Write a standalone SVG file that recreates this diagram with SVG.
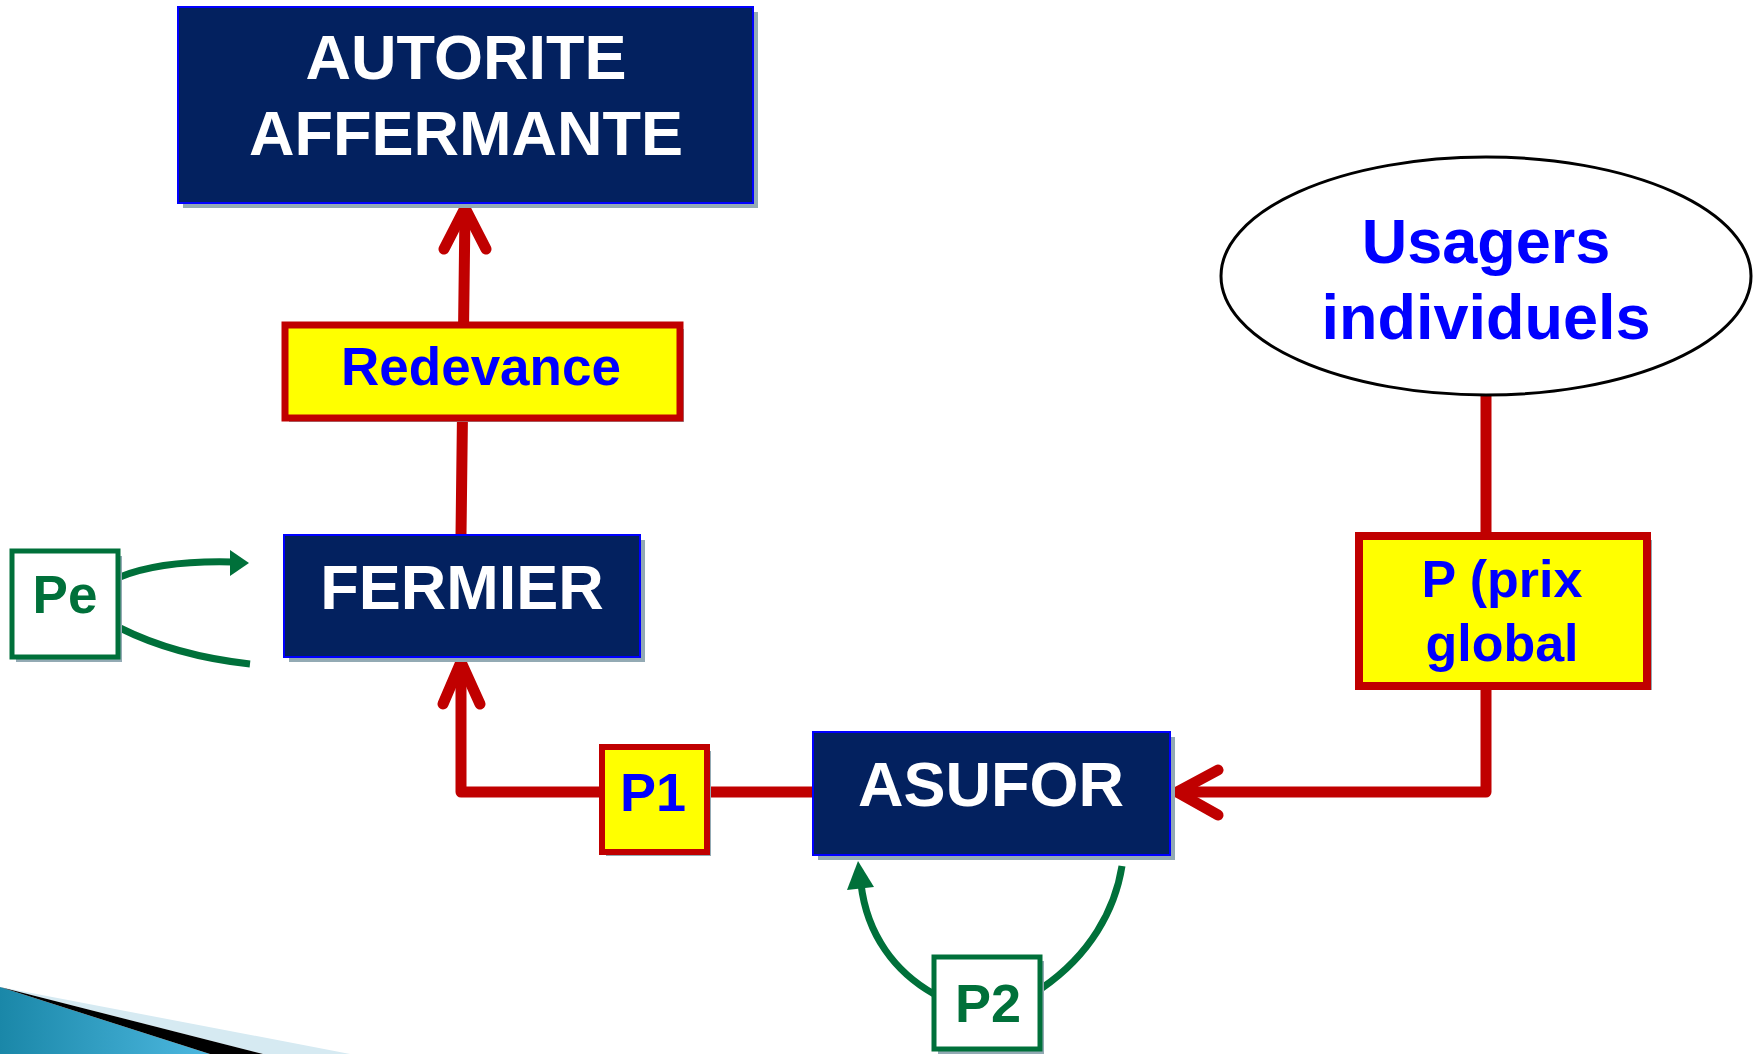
<svg xmlns="http://www.w3.org/2000/svg" width="1760" height="1054" viewBox="0 0 1760 1054">
<style>
.t{font-family:"Liberation Sans",Arial,sans-serif;font-weight:bold;text-anchor:middle}
.w{fill:#FFFFFF;font-size:63px}
.b{fill:#0000FF}
.g{fill:#00703A}
.navy{fill:#03215F;stroke:#0000FF;stroke-width:2}
.yel{fill:#FFFF00;stroke:#C00000;stroke-width:7}
.grn{fill:#FFFFFF;stroke:#00703A;stroke-width:5}
.sh{fill:#93AAB4}
.red{fill:none;stroke:#C00000;stroke-width:11;stroke-linecap:round;stroke-linejoin:round}
.gl{fill:none;stroke:#00703A;stroke-width:7}
</style>
<defs>
<linearGradient id="blu" x1="0" y1="0" x2="1" y2="0">
<stop offset="0" stop-color="#1A87A8"/>
<stop offset="1" stop-color="#4DB8E0"/>
</linearGradient>
</defs>
<rect width="1760" height="1054" fill="#FFFFFF"/>

<g id="decoration">
<polygon points="0,987 350,1054 263,1054" fill="#D6EAF2"/>
<polygon points="0,987 0,1054 210,1054" fill="url(#blu)"/>
<polygon points="0,987 263,1054 210,1054" fill="#000000"/>
</g>

<g id="connectors">
<polyline class="red" points="461,535 465,210"/>
<polyline class="red" points="444,249 465,208 486,249"/>
<polyline class="red" points="813,792 461,792 461,664"/>
<polyline class="red" points="443,704 461,662 480,704"/>
<polyline class="red" points="1486,395 1486,792 1178,792"/>
<polyline class="red" points="1218,770 1177,792 1218,815"/>
<path class="gl" d="M120,577 C150,565 190,561 232,562"/>
<polygon points="230,550 249,563 230,576" fill="#00703A"/>
<path class="gl" d="M120,628 C160,648 205,659 250,664"/>
<path class="gl" d="M934,994 C895,972 867,935 861,884"/>
<polygon points="847,890 858,861 874,887" fill="#00703A"/>
<path class="gl" d="M1042,988 C1090,955 1115,910 1122,866"/>
</g>

<g id="autorite">
<rect class="sh" x="183" y="12" width="575" height="196"/>
<rect class="navy" x="178" y="7" width="575" height="196"/>
<text class="t w" x="466" y="79">AUTORITE</text>
<text class="t w" x="466" y="155">AFFERMANTE</text>
</g>

<g id="redevance">
<rect class="sh" x="289" y="329" width="395" height="93"/>
<rect class="yel" x="285" y="325" width="395" height="93"/>
<text class="t b" x="481" y="385" font-size="53">Redevance</text>
</g>

<g id="fermier">
<rect class="sh" x="289" y="540" width="356" height="122"/>
<rect class="navy" x="284" y="535" width="356" height="122"/>
<text class="t w" x="462" y="609">FERMIER</text>
</g>

<g id="pe">
<rect class="sh" x="16" y="556" width="106" height="106"/>
<rect class="grn" x="12" y="551" width="106" height="106"/>
<text class="t g" x="65" y="613" font-size="53">Pe</text>
</g>

<g id="p1">
<rect class="sh" x="606" y="751" width="105" height="105"/>
<rect class="yel" x="602" y="747" width="105" height="105" style="stroke-width:6"/>
<text class="t b" x="653" y="811" font-size="54">P1</text>
</g>

<g id="asufor">
<rect class="sh" x="818" y="737" width="357" height="123"/>
<rect class="navy" x="813" y="732" width="357" height="123"/>
<text class="t w" x="991" y="806">ASUFOR</text>
</g>

<g id="usagers">
<ellipse cx="1486" cy="276" rx="265" ry="119" fill="#FFFFFF" stroke="#000000" stroke-width="3"/>
<text class="t b" x="1486" y="263" font-size="63">Usagers</text>
<text class="t b" x="1486" y="339" font-size="63">individuels</text>
</g>

<g id="prix">
<rect class="sh" x="1363" y="540" width="289" height="150"/>
<rect class="yel" x="1359" y="536" width="288" height="150" style="stroke-width:8"/>
<text class="t b" x="1502" y="597" font-size="52">P (prix</text>
<text class="t b" x="1502" y="661" font-size="52">global</text>
</g>

<g id="p2">
<rect class="sh" x="938" y="961" width="106" height="93"/>
<rect class="grn" x="934" y="957" width="106" height="92"/>
<text class="t g" x="988" y="1022" font-size="54">P2</text>
</g>
</svg>
